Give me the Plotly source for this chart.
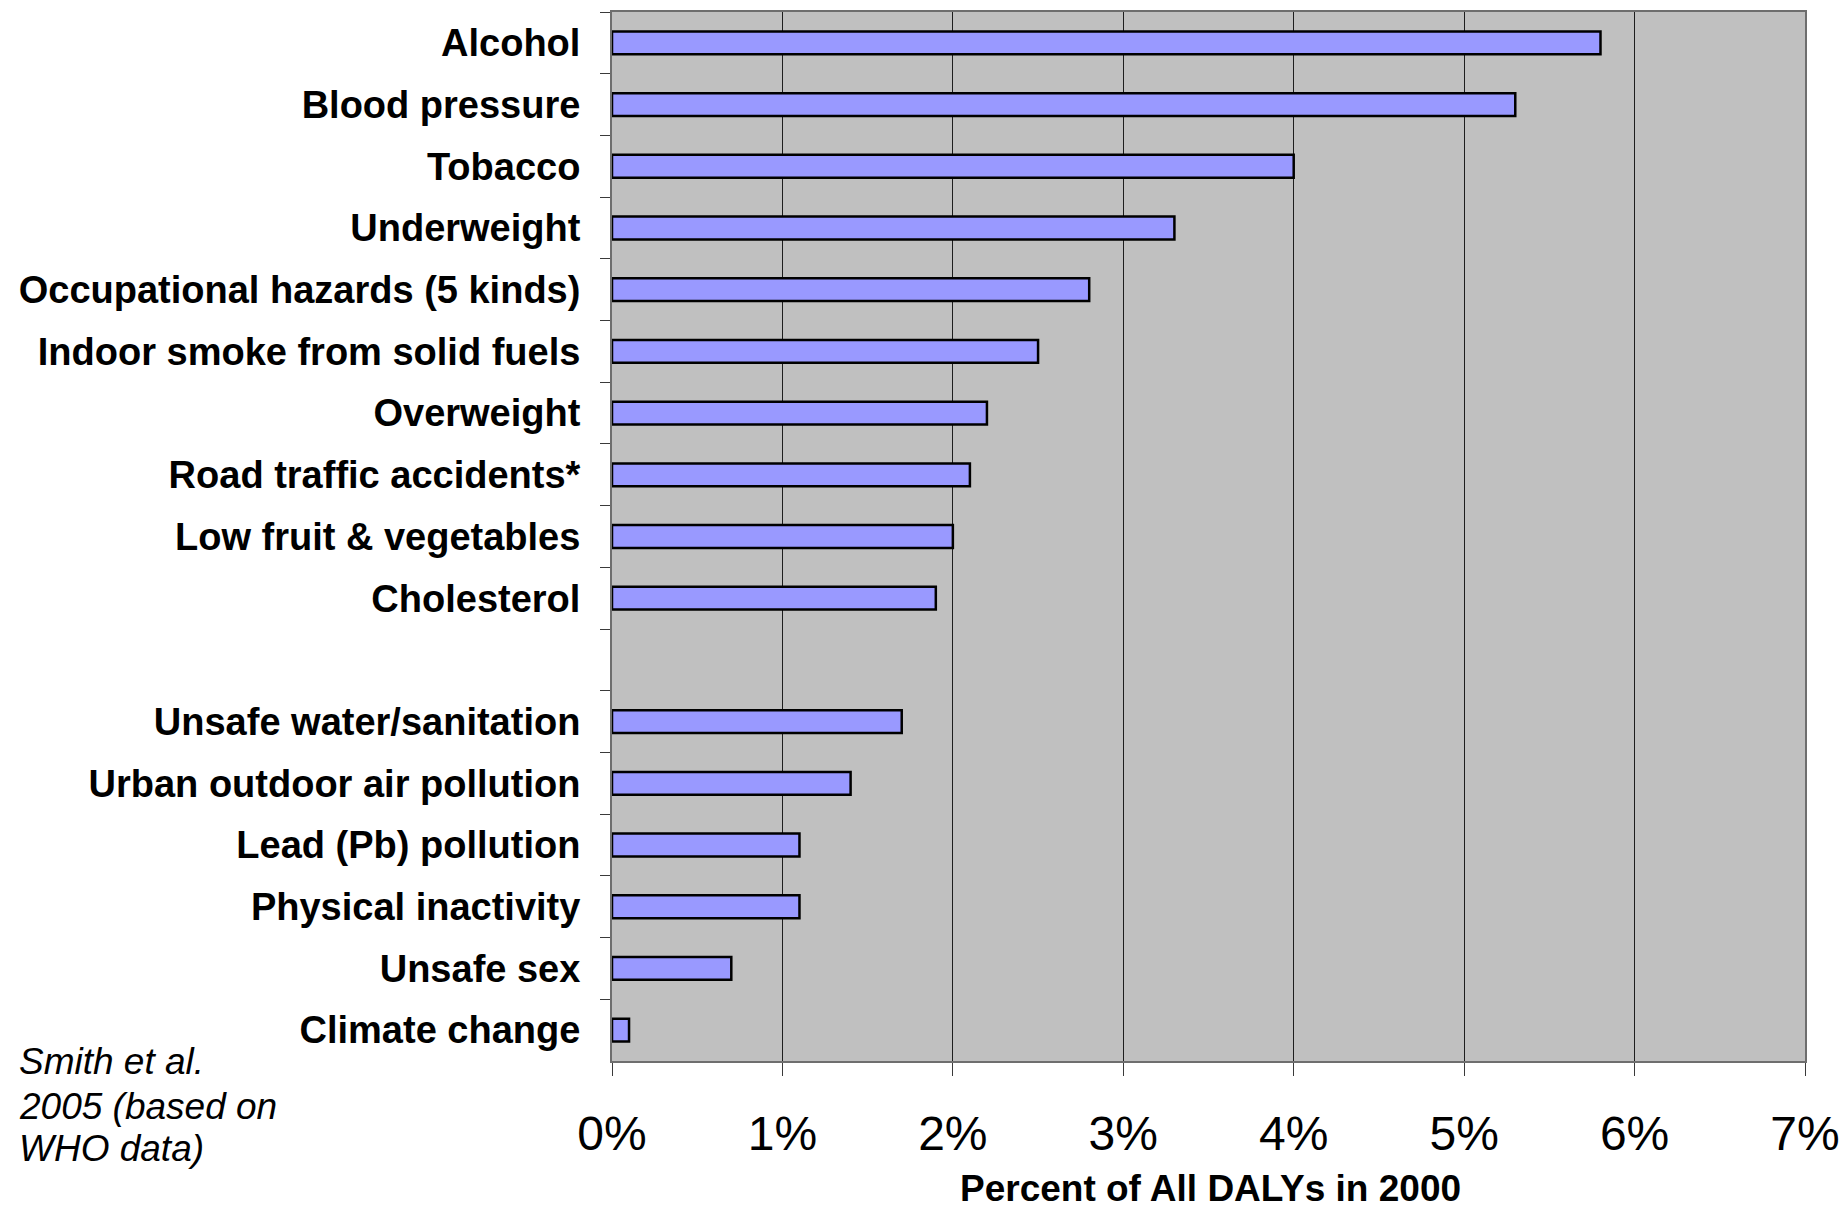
import plotly.graph_objects as go

# Attributable burden by risk factor, percent of all DALYs in 2000
risk_factors = [
    "Alcohol",
    "Blood pressure",
    "Tobacco",
    "Underweight",
    "Occupational hazards (5 kinds)",
    "Indoor smoke from solid fuels",
    "Overweight",
    "Road traffic accidents*",
    "Low fruit & vegetables",
    "Cholesterol",
    " ",
    "Unsafe water/sanitation",
    "Urban outdoor air pollution",
    "Lead (Pb) pollution",
    "Physical inactivity",
    "Unsafe sex",
    "Climate change",
]
daly_percent = [5.8, 5.3, 4.0, 3.3, 2.8, 2.5, 2.2, 2.1, 2.0, 1.9,
                None, 1.7, 1.4, 1.1, 1.1, 0.7, 0.1]
x_ticks = [0, 1, 2, 3, 4, 5, 6, 7]
x_tick_labels = ["0%", "1%", "2%", "3%", "4%", "5%", "6%", "7%"]
source_lines = ["Smith et al.", "2005 (based on", "WHO data)"]

fig = go.Figure(
    go.Bar(
        x=daly_percent,
        y=risk_factors,
        orientation="h",
        width=0.37,
        marker=dict(color="#9999FF", line=dict(color="#000000", width=2.5)),
        hoverinfo="x+y",
    )
)

fig.update_layout(
    width=1845,
    height=1209,
    margin=dict(l=612, r=40, t=12, b=148),
    paper_bgcolor="#FFFFFF",
    plot_bgcolor="#C0C0C0",
    showlegend=False,
)

fig.update_xaxes(
    range=[0, 7],
    tickvals=x_ticks,
    ticktext=x_tick_labels,
    showgrid=True,
    gridcolor="#1e1e1e",
    gridwidth=1,
    zeroline=False,
    showline=True,
    linecolor="#6e6e6e",
    linewidth=2,
    mirror=True,
    ticks="outside",
    ticklen=13,
    tickcolor="#3a3a3a",
    tickwidth=1,
    tickfont=dict(family="Liberation Sans, Arial, sans-serif", size=48, color="#000000"),
    ticklabelstandoff=16,
    automargin=False,
    fixedrange=True,
)

fig.update_yaxes(
    type="category",
    categoryorder="array",
    categoryarray=risk_factors,
    autorange="reversed",
    tickson="boundaries",
    ticks="outside",
    ticklen=10,
    tickcolor="#3a3a3a",
    tickwidth=1,
    showgrid=False,
    showline=True,
    linecolor="#6e6e6e",
    linewidth=2,
    mirror=True,
    tickfont=dict(family="Liberation Sans, Arial, sans-serif", size=38, color="#000000", weight="bold"),
    ticklabelstandoff=22,
    automargin=False,
    fixedrange=True,
)

# axis title
fig.add_annotation(
    text="<b>Percent of All DALYs in 2000</b>",
    xref="paper", yref="paper",
    x=0.5017, y=-0.122,
    xanchor="center", yanchor="middle",
    showarrow=False,
    font=dict(family="Liberation Sans, Arial, sans-serif", size=37, color="#000000"),
)

# source note, one annotation per line for tight line spacing
source_y = [-0.0005, -0.0435, -0.0835]
for line, yy in zip(source_lines, source_y):
    fig.add_annotation(
        text=f"<i>{line}</i>",
        xref="paper", yref="paper",
        x=-0.4985, y=yy,
        xanchor="left", yanchor="middle",
        align="left",
        showarrow=False,
        font=dict(family="Liberation Sans, Arial, sans-serif", size=37, color="#000000"),
    )

fig.write_html("out.html")
